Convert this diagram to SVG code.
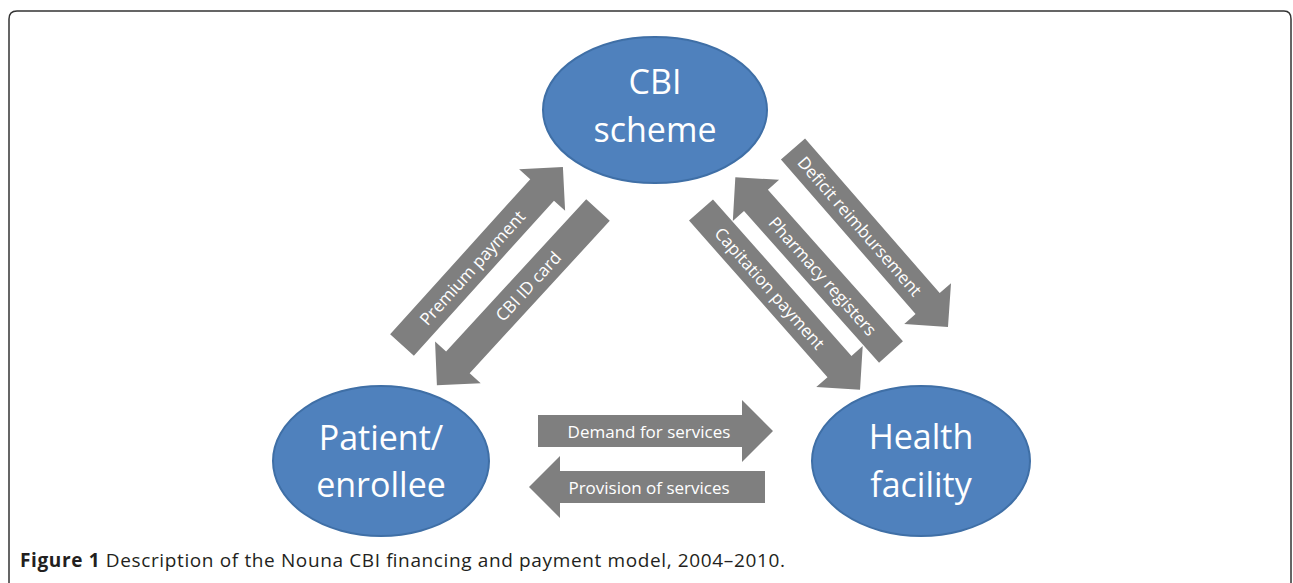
<svg xmlns="http://www.w3.org/2000/svg" width="1293" height="583" viewBox="0 0 1293 583">
<style>
.node{fill:#4F81BD;stroke:#3F6FA6;stroke-width:2}
.ntxt{font-family:"Open Sans","DejaVu Sans",sans-serif;font-size:34px;fill:#fff;text-anchor:middle}
.arr{fill:#7F7F7F}
.atxt{font-family:"Open Sans","DejaVu Sans",sans-serif;font-size:17px;fill:#fff;text-anchor:middle;dominant-baseline:central}
.cap{font-family:"Open Sans","Liberation Sans",sans-serif;font-size:19px;fill:#231F20}
</style>
<defs>
<path id="a240" d="M0,-16 H209 V-31 L240,0 L209,31 V16 H0 Z"/>
<path id="a238" d="M0,-16 H207 V-31 L238,0 L207,31 V16 H0 Z"/>
<path id="a236" d="M0,-16 H205 V-31 L236,0 L205,31 V16 H0 Z"/>
<path id="a234" d="M0,-16 H203 V-31 L234,0 L203,31 V16 H0 Z"/>
<path id="a235" d="M0,-16 H204 V-31 L235,0 L204,31 V16 H0 Z"/>
</defs>
<path d="M9,583 V19 Q9,11 17,11 H1284 Q1291,11 1291,19 V583" fill="none" stroke="#333" stroke-width="1.5"/>
<g id="connectors">
<g id="premium"><use href="#a240" class="arr" transform="translate(402,345) rotate(-47.9)"/><text class="atxt" transform="translate(472,267.5) rotate(-47.9)">Premium payment</text></g>
<g id="idcard"><use href="#a238" class="arr" transform="translate(598,210) rotate(132.6)"/><text class="atxt" transform="translate(528,286) rotate(-47.4)">CBI ID card</text></g>
<g id="deficit"><use href="#a236" class="arr" transform="translate(793,149) rotate(48.95)"/><text class="atxt" transform="translate(860,226) rotate(48.95)">Deficit reimbursement</text></g>
<g id="pharmacy"><use href="#a234" class="arr" transform="translate(891,352) rotate(228.3)"/><text class="atxt" transform="translate(823,276) rotate(48.3)">Pharmacy registers</text></g>
<g id="capitation"><use href="#a240" class="arr" transform="translate(701,210) rotate(48.5)"/><text class="atxt" transform="translate(770,288) rotate(48.5)">Capitation payment</text></g>
<g id="demand"><use href="#a235" class="arr" transform="translate(538,431)"/><text class="atxt" x="649" y="431">Demand for services</text></g>
<g id="provision"><use href="#a236" class="arr" transform="translate(765,487) rotate(180)"/><text class="atxt" x="649" y="487">Provision of services</text></g>
</g>
<g id="cbi"><ellipse class="node" cx="655" cy="110" rx="112" ry="73"/><text class="ntxt" x="655" y="94">CBI</text><text class="ntxt" x="655" y="142">scheme</text></g>
<g id="patient"><ellipse class="node" cx="381" cy="461" rx="108" ry="75"/><text class="ntxt" x="381" y="450">Patient/</text><text class="ntxt" x="381" y="497">enrollee</text></g>
<g id="health"><ellipse class="node" cx="921" cy="461" rx="109" ry="75"/><text class="ntxt" x="921" y="449">Health</text><text class="ntxt" x="921" y="497">facility</text></g>
<text class="cap" x="20" y="567" textLength="765" lengthAdjust="spacing"><tspan font-weight="bold">Figure 1</tspan> Description of the Nouna CBI financing and payment model, 2004–2010.</text>
</svg>
